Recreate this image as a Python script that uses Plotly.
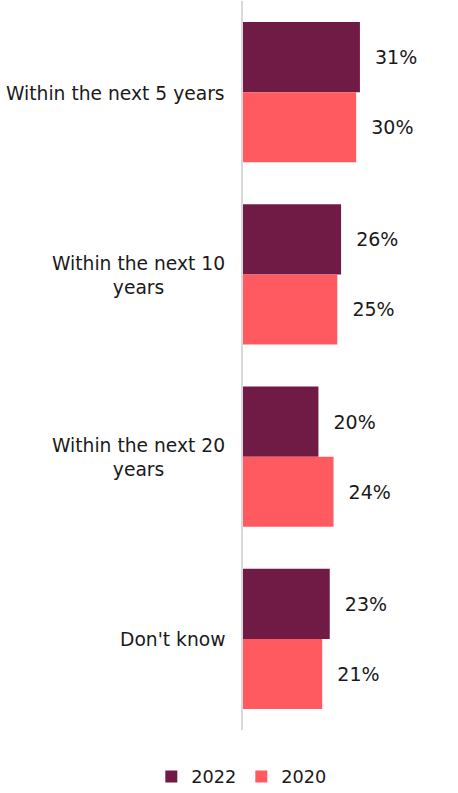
import plotly.graph_objects as go

categories = ["Within the next 5 years", "Within the next 10<br>years",
              "Within the next 20<br>years", "Don't know"]
series_names = ["2022", "2020"]
values_2022 = [31, 26, 20, 23]
values_2020 = [30, 25, 24, 21]
colors = ["#701B45", "#FF5A5F"]

FONT = "Verdana, DejaVu Sans, sans-serif"
pad = "\u00a0\u00a0"

fig = go.Figure()
for name, vals, col in zip(series_names, [values_2022, values_2020], colors):
    fig.add_trace(go.Bar(
        y=categories, x=vals, name=name, orientation="h",
        marker=dict(color=col, line=dict(width=0)),
        text=[f"{pad}{v}%" for v in vals], textposition="outside",
        textfont=dict(family=FONT, size=19, color="#1a1a1a"),
        cliponaxis=False,
    ))

for c in categories:
    fig.add_annotation(x=0, xref="paper", y=c, yref="y", text=c,
                       xanchor="right", yanchor="middle", align="center",
                       xshift=-16, yshift=-1, showarrow=False,
                       font=dict(family=FONT, size=18.7, color="#1a1a1a"))

fig.update_layout(
    width=458, height=793,
    margin=dict(l=243, r=0, t=1, b=63),
    paper_bgcolor="white", plot_bgcolor="white",
    barmode="group", bargap=0.23, bargroupgap=0,
    font=dict(family=FONT, size=16, color="#1a1a1a"),
    xaxis=dict(visible=False, range=[0, 57.0]),
    yaxis=dict(autorange="reversed", showticklabels=False, showgrid=False,
               showline=True, linecolor="#D9D9D9", linewidth=2, ticks="",
               zeroline=False),
    legend=dict(orientation="h", xref="container", x=0.528, xanchor="center",
                yref="container", y=0.0202, yanchor="middle",
                font=dict(family=FONT, size=17.7, color="#1a1a1a"),
                itemwidth=30, traceorder="normal"),
    showlegend=True,
)

fig.write_html("out.html", config={"displayModeBar": False},
               post_script="document.body.style.margin='0';document.body.style.padding='0';")
